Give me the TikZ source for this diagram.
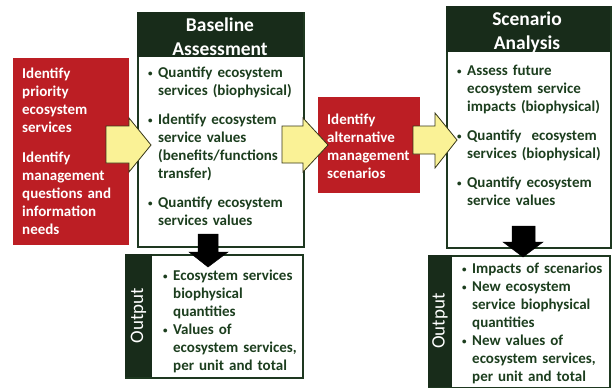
\documentclass[tikz,border=0pt]{standalone}
\usepackage{fontspec}
\setmainfont{Carlito}
% one bulleted entry with a hanging indent; entries are separated by \par
\newcommand\bitem[1]{\hangindent=10pt\hangafter=1\noindent\makebox[10pt][l]{\raisebox{1.6pt}{\fontsize{9}{9}\selectfont\textbullet}}#1}
\begin{document}
\begin{tikzpicture}[x=1pt,y=-1pt]
\definecolor{hdr}{RGB}{24,44,26}
\definecolor{edge}{RGB}{30,56,32}
\definecolor{bodytext}{RGB}{28,62,30}
\definecolor{stepred}{RGB}{188,30,36}
\definecolor{pale}{RGB}{250,242,150}
\definecolor{paleedge}{RGB}{55,55,25}
\tikzset{
  panel/.style={draw=edge, line width=2.4pt, fill=white, inner sep=0pt, anchor=north west},
  headband/.style={fill=hdr, inner sep=0pt, anchor=north west},
  redbox/.style={fill=stepred, inner sep=0pt, anchor=north west},
  outpanel/.style={draw=edge, line width=2pt, fill=white, inner sep=0pt, anchor=north west},
  strip/.style={fill=hdr, inner sep=0pt, anchor=north west},
  headtext/.style={text=white, font=\fontsize{19.5}{24}\selectfont\bfseries, align=center, inner sep=0pt},
  redtext/.style={text=white, font=\fontsize{15}{18}\selectfont\bfseries, inner sep=0pt, anchor=north west},
  listtext/.style={text=bodytext, font=\fontsize{15}{18}\selectfont\bfseries, inner sep=0pt, anchor=north west},
  striptext/.style={text=white, font=\fontsize{19}{22}\selectfont, rotate=90, inner sep=0pt},
  flowarrow/.style={fill=pale, draw=paleedge, line width=0.8pt, line join=miter},
  downarrow/.style={fill=black, draw=black, line width=0.5pt}
}
\useasboundingbox (0,0) rectangle (613,388);

% left step box
\node[redbox, minimum width=116, minimum height=187] (prio) at (13,58) {};
\node[redtext, text width=105] (priotext) at (22,68)
  {\setlength\parskip{12pt}\raggedright
   Identify\newline priority\newline ecosystem\newline services\par
   Identify\newline management\newline questions and\newline information\newline needs\par};

% baseline assessment panel
\node[panel, minimum width=166, minimum height=234] (base) at (137,12) {};
\node[headband, minimum width=166, minimum height=45] (basehead) at (137,12) {};
\node[headtext] (basetitle) at (220,37) {Baseline\\Assessment};
\node[listtext, text width=152] (baselist) at (148,67)
  {\setlength\parskip{11pt}\raggedright
   \bitem{Quantify ecosystem\newline services (biophysical)}\par
   \bitem{Identify ecosystem\newline service values\newline (benefits/functions\newline transfer)}\par
   \bitem{Quantify ecosystem\newline services values}\par};

% middle step box
\node[redbox, minimum width=102, minimum height=96] (alt) at (318,97) {};
\node[redtext, text width=92] (alttext) at (327,114)
  {\raggedright Identify\newline alternative\newline management\newline scenarios\par};

% scenario analysis panel
\node[panel, minimum width=164, minimum height=241] (scen) at (446,6) {};
\node[headband, minimum width=164, minimum height=46] (scenhead) at (446,6) {};
\node[headtext] (scentitle) at (527,32) {Scenario\\Analysis};
\node[listtext, text width=150] (scenlist) at (457,65)
  {\setlength\parskip{11pt}\raggedright
   \bitem{Assess future\newline ecosystem service\newline impacts (biophysical)}\par
   \bitem{Quantify\ \ ecosystem\newline services (biophysical)}\par
   \bitem{Quantify ecosystem\newline service values}\par};

% output panels
\node[outpanel, minimum width=177, minimum height=123] (outa) at (125,254) {};
\node[strip, minimum width=27, minimum height=123] (outastrip) at (125,254) {};
\node[striptext] (outalabel) at (138.5,315.5) {Output};
\node[listtext, text width=135] (outalist) at (163,270)
  {\raggedright
   \bitem{Ecosystem services\newline biophysical\newline quantities}\par
   \bitem{Values of\newline ecosystem services,\newline per unit and total}\par};

\node[outpanel, minimum width=181, minimum height=132] (outb) at (428,255) {};
\node[strip, minimum width=24, minimum height=132] (outbstrip) at (428,255) {};
\node[striptext] (outblabel) at (440,321) {Output};
\node[listtext, text width=145] (outblist) at (462,263)
  {\raggedright
   \bitem{Impacts of scenarios}\par
   \bitem{New ecosystem\newline service biophysical\newline quantities}\par
   \bitem{New values of\newline ecosystem services,\newline per unit and total}\par};

% block arrows between the steps
\filldraw[flowarrow] (106,126) -- (129,126) -- (129,118) -- (151,145) -- (129,172) -- (129,163) -- (106,163) -- cycle;
\filldraw[flowarrow] (282,126) -- (303,126) -- (303,118) -- (328,145) -- (303,172) -- (303,163) -- (282,163) -- cycle;
\filldraw[flowarrow] (413,126) -- (435,126) -- (435,113) -- (457,140) -- (435,168) -- (435,154) -- (413,154) -- cycle;

% arrows down to the outputs
\filldraw[downarrow] (198,234) -- (218,234) -- (218,252) -- (228,252) -- (208,267) -- (189,252) -- (198,252) -- cycle;
\filldraw[downarrow] (512,226) -- (535,226) -- (535,242) -- (543,242) -- (523,257) -- (503,242) -- (512,242) -- cycle;
\end{tikzpicture}
\end{document}
